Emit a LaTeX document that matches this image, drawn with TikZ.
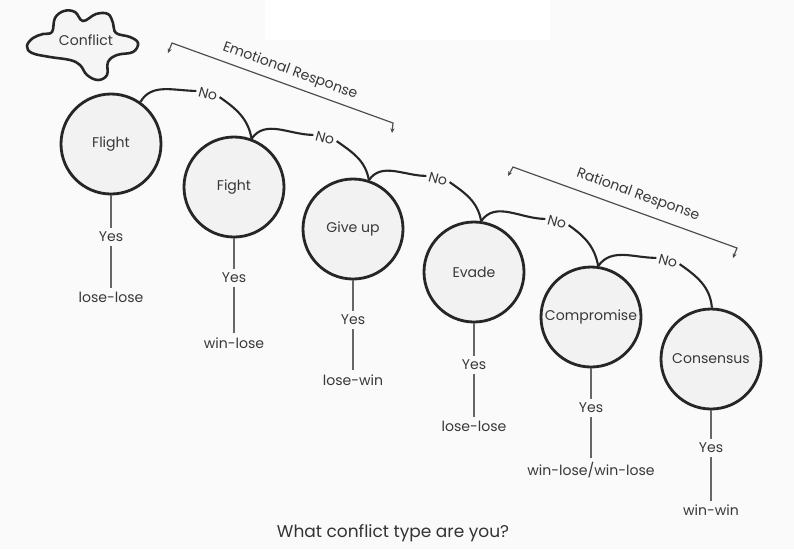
\documentclass[tikz,border=0pt]{standalone}
\usepackage{fontspec}
\setmainfont{Poppins}
\usetikzlibrary{arrows.meta}

\begin{document}
\begin{tikzpicture}[x=0.03cm, y=0.03cm,
    state/.style={draw=black!85, line width=2.4pt, circle, fill=black!5, inner sep=1pt,
      minimum size=3cm, font=\fontsize{12}{14}\selectfont, text=black!78},
    lbl/.style={font=\fontsize{12}{14}\selectfont, text=black!78},
    nolbl/.style={lbl, rotate=-15, inner sep=2pt},
    noline/.style={draw=black!85, line width=1.8pt},
    yesline/.style={draw=black!60, line width=1.2pt},
    brace/.style={draw=black!70, line width=1pt, {Stealth[length=4pt,width=3.5pt]}-{Stealth[length=4pt,width=3.5pt]}}]
    \useasboundingbox (0,0) rectangle (794,-549);
    \fill[black!2] (0,0) rectangle (794,-549);
    \fill[white] (265,0) rectangle (550,-40);

    % 冲突
    \draw[line width=2.2pt, draw=black!85, fill=black!4] plot[smooth cycle, tension=0.65] coordinates {
      (52,-32) (55,-18) (64,-11) (75,-12) (83,-21) (96,-14) (108,-14) (113,-23) (116,-33)
      (130,-37) (138,-43) (133,-52) (117,-55) (108,-62) (107,-75) (98,-80) (87,-75)
      (80,-65) (70,-60) (50,-57) (32,-53) (27,-46) (33,-38) (43,-34)};
    \node[lbl] (conflict) at (86,-40) {Conflict};

    % 情绪反应
    \coordinate (emoA) at (168,-53);
    \coordinate (emoB) at (172,-43);
    \coordinate (emoC) at (393,-123);
    \coordinate (emoD) at (392,-133);
    \draw[brace] (emoA) -- (emoB) -- (emoC) -- (emoD);
    \node[lbl, rotate=-20] (emotxt) at (290,-71) {Emotional Response};

    % 理性反应
    \coordinate (ratA) at (508,-176);
    \coordinate (ratB) at (513,-167);
    \coordinate (ratC) at (737,-248);
    \coordinate (ratD) at (733,-258);
    \draw[brace] (ratA) -- (ratB) -- (ratC) -- (ratD);
    \node[lbl, rotate=-20] (rattxt) at (638,-195) {Rational Response};

    % 六种反应
    \node[state] (flight) at (111,-144) {Flight};
    \node[state] (fight) at (234,-187) {Fight};
    \node[state] (giveup) at (353,-229) {Give up};
    \node[state] (evade) at (474,-272) {Evade};
    \node[state] (compromise) at (591,-317) {Compromise};
    \node[state] (consensus) at (711,-359) {Consensus};

    % No 分支
    \node[nolbl] (no1) at (208,-94) {No};
    \node[nolbl] (no2) at (325,-138) {No};
    \node[nolbl] (no3) at (438,-179) {No};
    \node[nolbl] (no4) at (557,-222) {No};
    \node[nolbl] (no5) at (668,-261) {No};

    \draw[noline] (flight.55) to[out=60,in=180] (no1.west);
    \draw[noline] (no1.east) to[out=-35,in=100] (fight.70);
    \draw[noline] (fight.70) to[out=55,in=180] (no2.west);
    \draw[noline] (no2.east) to[out=-35,in=100] (giveup.72);
    \draw[noline] (giveup.72) to[out=55,in=180] (no3.west);
    \draw[noline] (no3.east) to[out=-35,in=100] (evade.82);
    \draw[noline] (evade.82) to[out=55,in=180] (no4.west);
    \draw[noline] (no4.east) to[out=-35,in=100] (compromise.82);
    \draw[noline] (compromise.82) to[out=55,in=180] (no5.west);
    \draw[noline] (no5.east) to[out=-35,in=95] (consensus.89);

    % Yes 分支
    \node[lbl] (yes1) at (111,-237) {Yes};
    \node[lbl] (yes2) at (234,-278) {Yes};
    \node[lbl] (yes3) at (353,-320) {Yes};
    \node[lbl] (yes4) at (474,-365) {Yes};
    \node[lbl] (yes5) at (591,-408) {Yes};
    \node[lbl] (yes6) at (711,-448) {Yes};

    \node[lbl] (res1) at (111,-297) {lose-lose};
    \node[lbl] (res2) at (234,-343) {win-lose};
    \node[lbl] (res3) at (353,-380) {lose-win};
    \node[lbl] (res4) at (474,-426) {lose-lose};
    \node[lbl] (res5) at (591,-470) {win-lose/win-lose};
    \node[lbl] (res6) at (711,-510) {win-win};

    \draw[yesline] (flight) -- (yes1) -- (res1);
    \draw[yesline] (fight) -- (yes2) -- (res2);
    \draw[yesline] (giveup) -- (yes3) -- (res3);
    \draw[yesline] (evade) -- (yes4) -- (res4);
    \draw[yesline] (compromise) -- (yes5) -- (res5);
    \draw[yesline] (consensus) -- (yes6) -- (res6);

    % 标题
    \node[font=\fontsize{14.5}{16}\selectfont, text=black!80] (title) at (393,-533) {What conflict type are you?};
  \end{tikzpicture}
\end{document}
